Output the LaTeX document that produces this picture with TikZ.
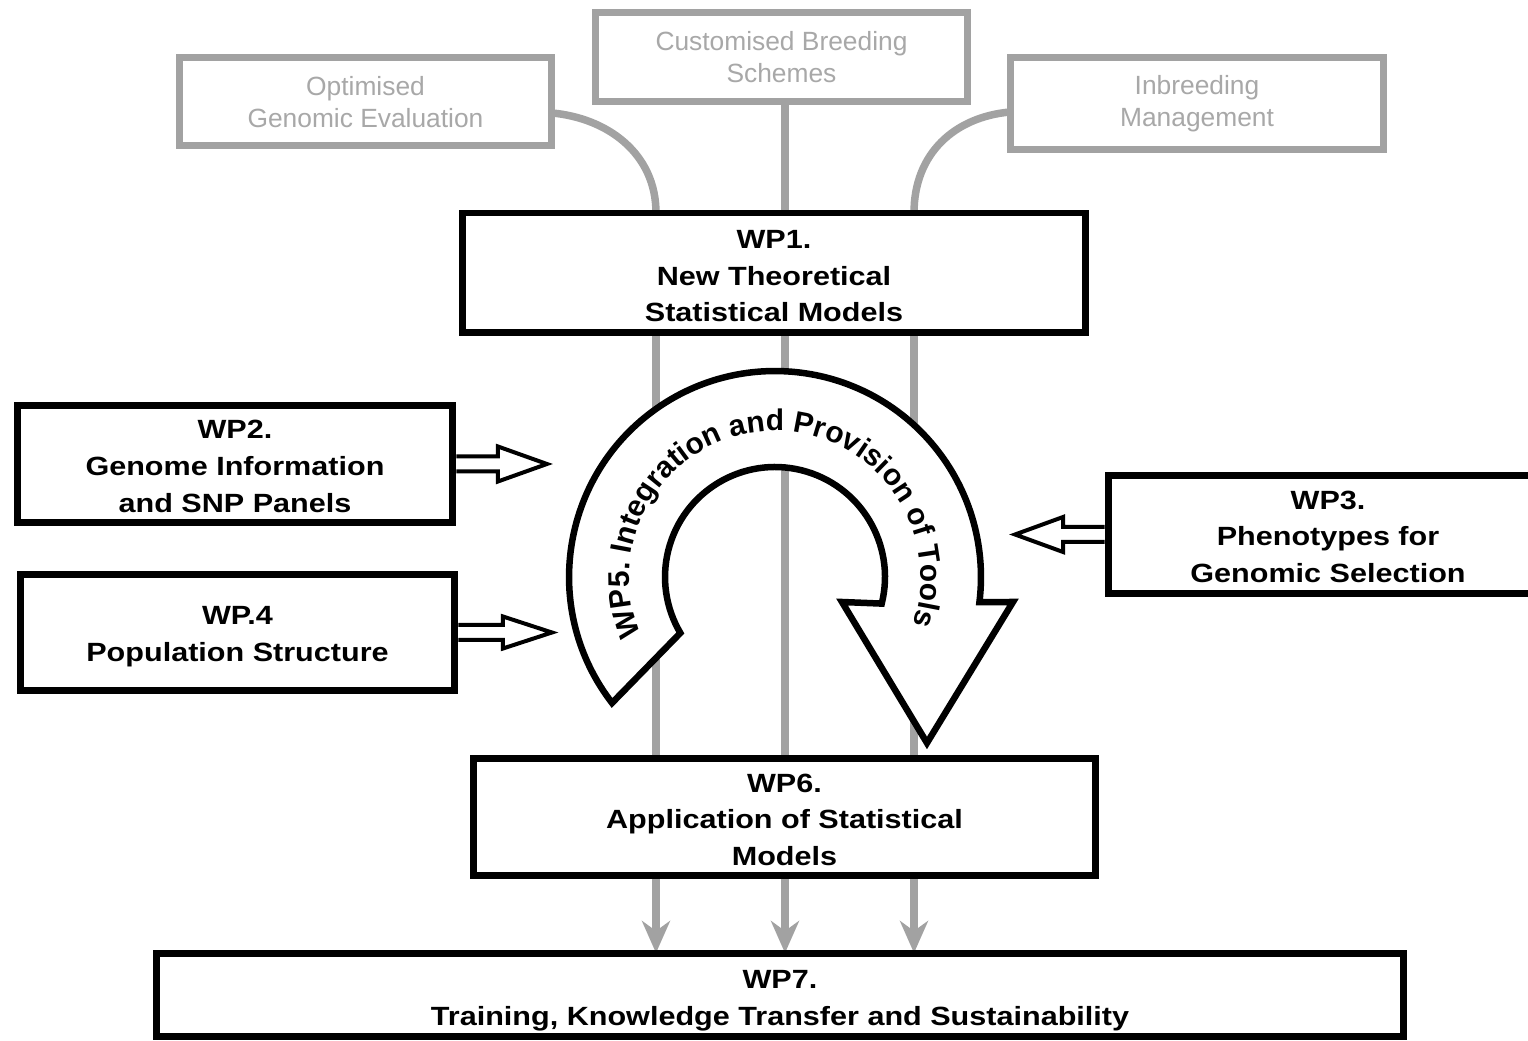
\documentclass[tikz,border=0pt]{standalone}
\usepackage{fontspec}
\setmainfont{Liberation Sans}
\newfontfamily\wpfont{Liberation Sans}[FakeStretch=1.16]
\usetikzlibrary{arrows.meta,calc,backgrounds,decorations.text}
\definecolor{linegray}{RGB}{162,162,162}
\definecolor{textgray}{RGB}{168,168,168}
\newcommand\curvefont{\bfseries\fontsize{17}{20}\selectfont}
\newcommand\topstrut[1]{\rule{0pt}{#1}}
\tikzset{
 wpbox/.style={draw=black, line width=0.14cm, fill=white, inner sep=0pt, outer sep=0pt, align=center,
   font=\wpfont\bfseries\fontsize{15}{20.8}\selectfont},
 graybox/.style={draw=linegray, line width=0.14cm, fill=white, inner sep=0pt, outer sep=0pt, align=center, text=textgray, font=\fontsize{15}{18.2}\selectfont},
 grayline/.style={draw=linegray, line width=0.15cm},
 grayarrow/.style={grayline, -{Stealth[length=0.64cm,width=0.56cm,inset=0.2cm]}},
 hollow/.style={draw=black, fill=white, line width=0.08cm, line join=miter},
 uarrow/.style={draw=black, fill=white, line width=0.13cm, line join=miter},
}
\begin{document}
\begin{tikzpicture}[x=0.02cm, y=0.02cm]
\useasboundingbox (0,0) rectangle (1528,1041);
\clip (0,0) rectangle (1528,1041);

\node[graybox, minimum width=7.46cm, minimum height=1.76cm] (opt) at (365.5,939) {Optimised\\Genomic Evaluation};
\node[graybox, minimum width=7.46cm, minimum height=1.78cm] (cust) at (781.5,983.5) {Customised Breeding\\Schemes};
\node[graybox, minimum width=7.48cm, minimum height=1.84cm] (inb) at (1197,937) {Inbreeding\\Management};

\node[wpbox, minimum width=12.48cm, minimum height=2.4cm] (wp1) at (774,768) {\topstrut{14.2pt}WP1.\\New Theoretical\\Statistical Models};
\node[wpbox, minimum width=8.72cm, minimum height=2.36cm] (wp2) at (235,577) {\topstrut{13.2pt}WP2.\\Genome Information\\and SNP Panels};
\node[wpbox, minimum width=8.7cm, minimum height=2.34cm] (wp4) at (237.5,408.5) {\topstrut{15pt}WP.4\\Population Structure};
\node[wpbox, minimum width=8.8cm, minimum height=2.38cm] (wp3) at (1328,506.5) {\topstrut{13.2pt}WP3.\\Phenotypes for\\Genomic Selection};
\node[wpbox, minimum width=12.46cm, minimum height=2.36cm] (wp6) at (784.5,224) {\topstrut{13.6pt}WP6.\\Application of Statistical\\Models};
\node[wpbox, minimum width=24.96cm, minimum height=1.68cm] (wp7) at (780,46) {\topstrut{16.6pt}WP7.\\Training, Knowledge Transfer and Sustainability};

\coordinate (xl) at (656,0);
\coordinate (xm) at (785,0);
\coordinate (xr) at (914,0);
\coordinate (C) at (775,464);

\begin{scope}[on background layer]
 \draw[grayline] ([yshift=-0.22cm]opt.east) .. controls +(55,-5) and +(0,60) .. (wp1.north -| xl);
 \draw[grayline] (cust.south -| xm) -- (wp1.north -| xm);
 \draw[grayline] ([yshift=-0.16cm]inb.west) .. controls +(-55,-5) and +(0,60) .. (wp1.north -| xr);
 \foreach \c in {xl,xm,xr} {
   \draw[grayline] (wp1.south -| \c) -- (wp6.north -| \c);
   \draw[grayarrow] (wp6.south -| \c) -- (wp7.north -| \c);
 }
\end{scope}

\draw[hollow] ([xshift=0.07cm,yshift=0.15cm]wp2.east) -- ++(41.5,0) -- ++(0,10) -- ++(49,-17.5) -- ++(-49,-17.5) -- ++(0,10) -- ++(-41.5,0);
\draw[hollow] ([xshift=0.07cm,yshift=0.15cm]wp4.east) -- ++(44.5,0) -- ++(0,8.5) -- ++(49,-16) -- ++(-49,-16) -- ++(0,8.5) -- ++(-44.5,0);
\draw[hollow] ([xshift=-0.07cm,yshift=0.15cm]wp3.west) -- ++(-41.5,0) -- ++(0,10) -- ++(-48,-17.5) -- ++(48,-17.5) -- ++(0,10) -- ++(41.5,0);

\draw[uarrow] ($(C)+(217.7:4.12cm)$) arc[start angle=217.7, end angle=-7, radius=4.12cm]
  -- ($(C)+(4.76cm,-0.5cm)$) -- ($(C)+(3.04cm,-3.32cm)$) -- ($(C)+(1.34cm,-0.5cm)$)
  -- ($(C)+(-14:2.2cm)$) arc[start angle=-14, end angle=210.6, radius=2.2cm] -- cycle;

\path[decorate, decoration={text along path, text align=center, text={|\curvefont|WP5. Integration and Provision of Tools}}]
  ($(C)+(212:2.92cm)$) arc[start angle=212, end angle=-28, radius=2.92cm];
\end{tikzpicture}
\end{document}
